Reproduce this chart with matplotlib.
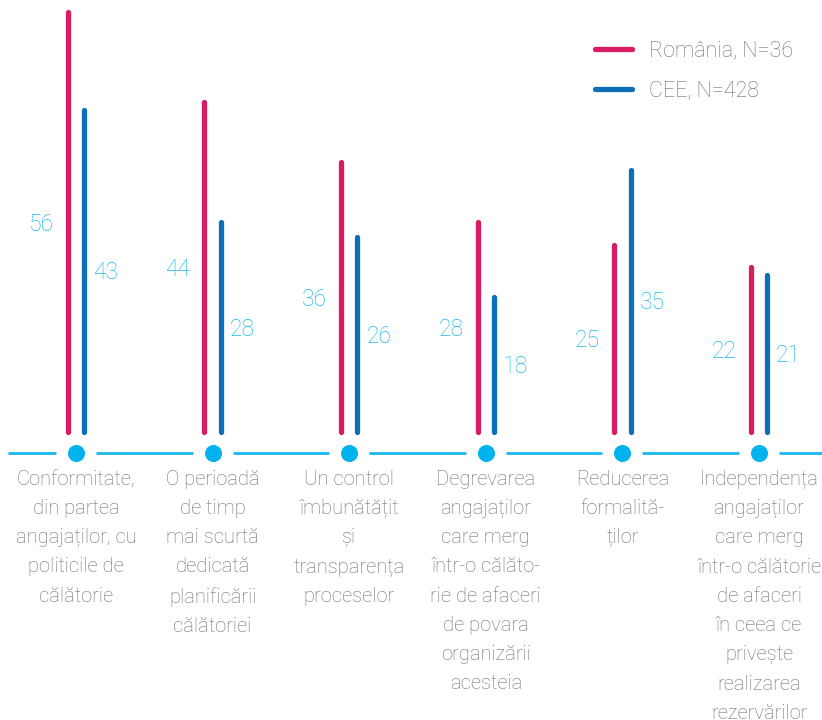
import matplotlib
matplotlib.use("Agg")
import matplotlib.pyplot as plt

categories = [
    "Conformitate,\ndin partea\nangajaților, cu\npoliticile de\ncălătorie",
    "O perioadă\nde timp\nmai scurtă\ndedicată\nplanificării\ncălătoriei",
    "Un control\nîmbunătățit\nși\ntransparența\nproceselor",
    "Degrevarea\nangajaților\ncare merg\nîntr-o călăto-\nrie de afaceri\nde povara\norganizării\nacesteia",
    "Reducerea\nformalită-\nților",
    "Independența\nangajaților\ncare merg\nîntr-o călătorie\nde afaceri\nîn ceea ce\nprivește\nrealizarea\nrezervărilor",
]
romania = [56, 44, 36, 28, 25, 22]
cee = [43, 28, 26, 18, 35, 21]
series_names = ["România, N=36", "CEE, N=428"]

PINK = "#d81b63"
BLUE = "#0d6fb8"
CYAN = "#19b9ee"
GREY = "#707070"

plt.rcParams["font.family"] = ["Roboto", "DejaVu Sans"]
plt.rcParams["font.weight"] = "light"

fig = plt.figure(figsize=(8.22, 7.2), dpi=100)
ax = fig.add_axes([0, 0, 1, 1])
ax.set_xlim(-0.556, 5.461)
ax.set_ylim(-38.4, 57.6)
ax.axis("off")

off = 0.06
base_y = -2.8
xs = list(range(len(categories)))

# vertical bars
ax.vlines([x - off for x in xs], 0, romania, color=PINK, lw=3.8, capstyle="round")
ax.vlines([x + off for x in xs], 0, cee, color=BLUE, lw=3.8, capstyle="round")

# value labels at mid height
for x, r, c in zip(xs, romania, cee):
    ax.annotate(str(r), (x - off, r / 2), xytext=(-10, -1.5), textcoords="offset points",
                ha="right", va="center", color=CYAN, fontsize=16.5)
    ax.annotate(str(c), (x + off, c / 2), xytext=(6.5, -1.5), textcoords="offset points",
                ha="left", va="center", color=CYAN, fontsize=16.5)

# baseline with gaps around the dots
gap = 0.146
ax.plot([-0.5, xs[0] - gap], [base_y, base_y], color=CYAN, lw=2, solid_capstyle="butt")
for a, b in zip(xs[:-1], xs[1:]):
    ax.plot([a + gap, b - gap], [base_y, base_y], color=CYAN, lw=2, solid_capstyle="butt")
ax.plot([xs[-1] + gap, 5.461], [base_y, base_y], color=CYAN, lw=2, solid_capstyle="butt")
ax.scatter(xs, [base_y] * len(xs), s=150, color="#00b3ee", zorder=3, linewidths=0)

# category labels
for x, label in zip(xs, categories):
    ax.annotate(label, (x, base_y), xytext=(0, -12), textcoords="offset points",
                ha="center", va="top", color=GREY, fontsize=14.5, linespacing=1.68)

# legend
ax.plot([], [], color=PINK, lw=3.8, solid_capstyle="round", label=series_names[0])
ax.plot([], [], color=BLUE, lw=3.8, solid_capstyle="round", label=series_names[1])
leg = ax.legend(loc="upper right", bbox_to_anchor=(0.988, 0.97), frameon=False,
                fontsize=15.5, handlelength=1.75, labelspacing=0.85, handletextpad=0.75)
for t in leg.get_texts():
    t.set_color(GREY)

fig.savefig("out.png", dpi=100)
